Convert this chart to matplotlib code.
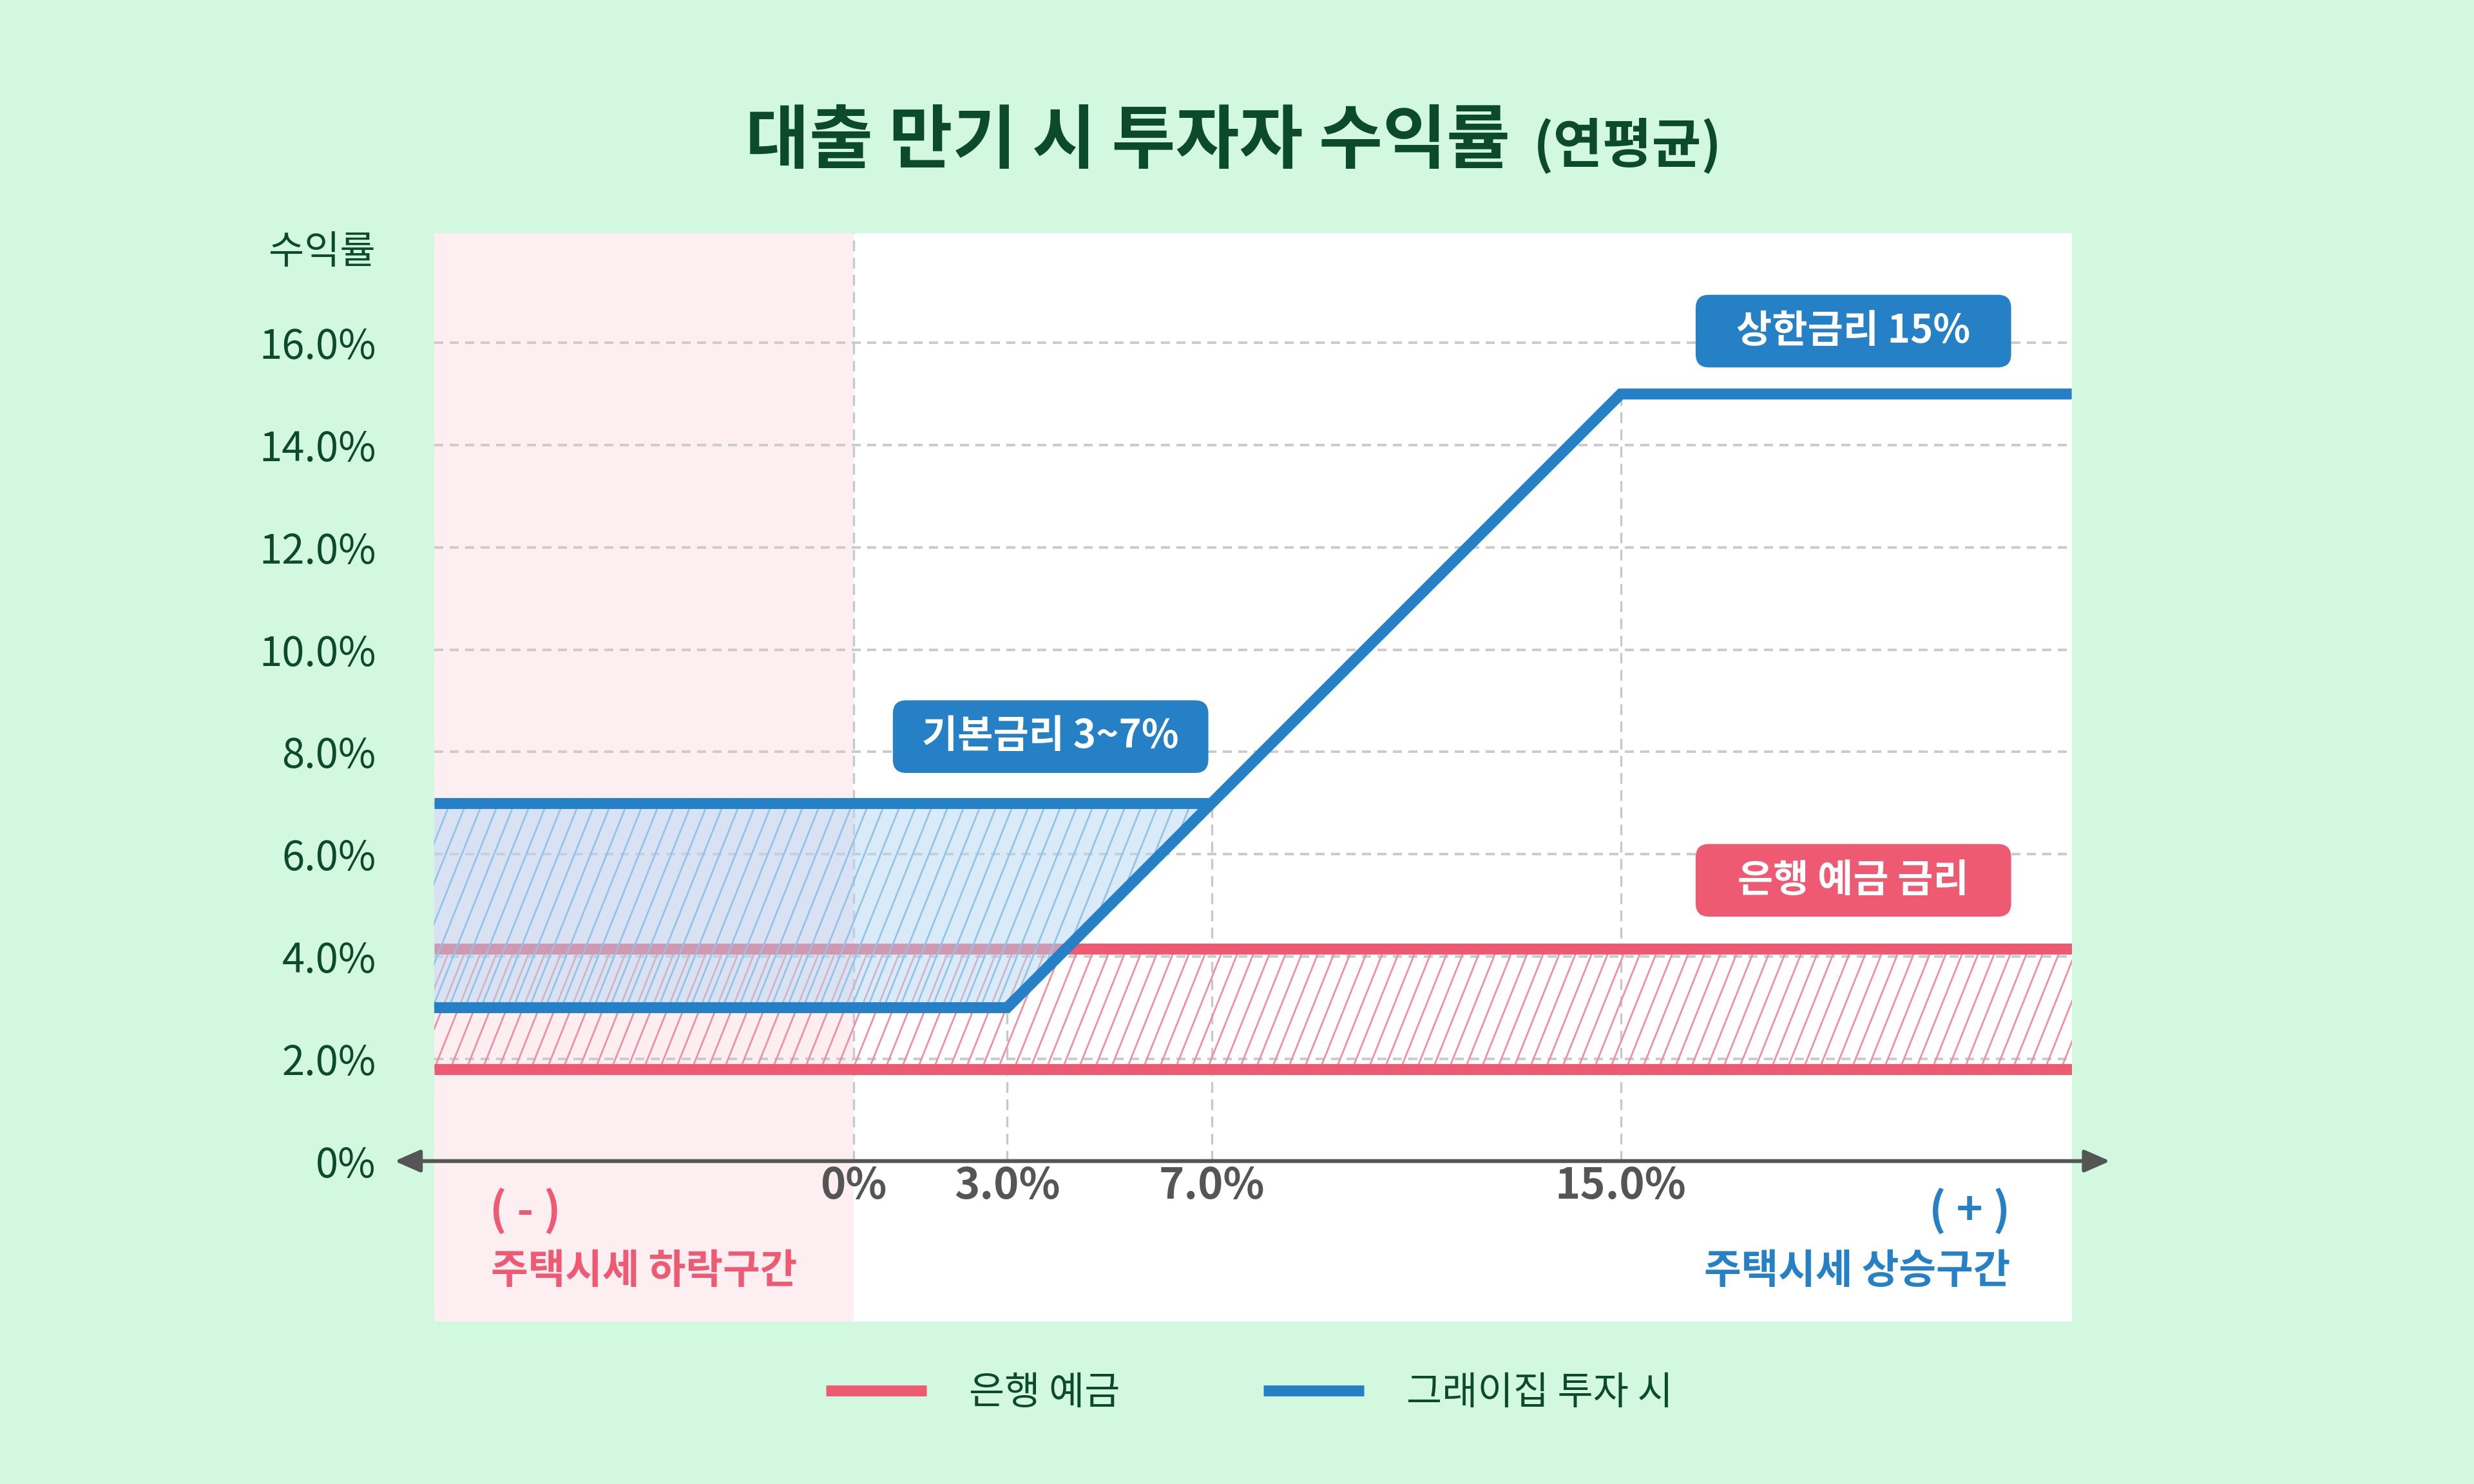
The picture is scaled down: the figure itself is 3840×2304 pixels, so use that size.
import numpy as np
import matplotlib.pyplot as plt
from matplotlib.patches import FancyBboxPatch
from matplotlib.collections import LineCollection

plt.rcParams['font.family'] = ['Noto Sans CJK KR', 'DejaVu Sans']

BG = '#d3f8e0'
GREEN = '#0b4a2b'
PINK = '#ee5a72'
BLUE = '#2580c6'
GREY = '#555555'

# axis range (house price change %, return %)
X_MIN, X_MAX = -8.21, 23.82
Y_MIN, Y_MAX = -3.14, 18.14

y_ticks = [0, 2, 4, 6, 8, 10, 12, 14, 16]
y_tick_labels = ['0%', '2.0%', '4.0%', '6.0%', '8.0%', '10.0%', '12.0%', '14.0%', '16.0%']

x_marks = [0, 3, 7, 15]
x_mark_labels = ['0%', '3.0%', '7.0%', '15.0%']
x_mark_tops = [Y_MAX, 3, 7, 15]

# bank deposit rate band
bank_low = 1.8
bank_high = 4.15

# greyzip investment return
grey_x = [X_MIN, 3, 15, X_MAX]
grey_y = [3, 3, 15, 15]
grey_top_x = [X_MIN, 7]
grey_top_y = [7, 7]
band_x = [X_MIN, 3, 7]
band_low = [3, 3, 7]
band_high = [7, 7, 7]

box_labels = ['상한금리 15%', '기본금리 3~7%', '은행 예금 금리']
box_x = [19.55, 3.85, 19.55]
box_y = [16.23, 8.30, 5.49]
box_colors = [BLUE, BLUE, PINK]


def add_hatch(ax, coll, color, y0, y1, z):
    # steep diagonal hatch clipped to a filled area
    slant = 0.4
    step = 0.315
    segs = []
    for x0 in np.arange(X_MIN - (y1 - y0) * slant, X_MAX, step):
        segs.append([(x0, y0), (x0 + (y1 - y0) * slant, y1)])
    lc = LineCollection(segs, colors=color, linewidths=0.8, zorder=z)
    lc.set_clip_path(coll.get_paths()[0], ax.transData)
    ax.add_collection(lc)


fig = plt.figure(figsize=(16, 9.6), dpi=240, facecolor=BG)
ax = fig.add_axes([0.1754, 0.1094, 0.6620, 0.7333])
ax.set_facecolor('white')
ax.set_xlim(X_MIN, X_MAX)
ax.set_ylim(Y_MIN, Y_MAX)
for s in ax.spines.values():
    s.set_visible(False)

# falling price zone
ax.axvspan(X_MIN, 0, color='#fdeef2', lw=0, zorder=0)

# grid
ax.hlines(y_ticks[1:], X_MIN, X_MAX, colors='#cccccc', lw=1.2,
          linestyles=(0, (3.5, 2.5)), zorder=1)
ax.vlines(x_marks, 0, x_mark_tops, colors='#c8c8c8', lw=1.0,
          linestyles=(0, (5, 3)), zorder=1)

# bank band
pink_fill = ax.fill_between([X_MIN, X_MAX], bank_low, bank_high, facecolor='none', lw=0)
add_hatch(ax, pink_fill, '#f08da1', bank_low, bank_high, 2)
pink_line, = ax.plot([X_MIN, X_MAX], [bank_high, bank_high], color=PINK, lw=5.1,
                     solid_capstyle='butt', zorder=3, label='은행 예금')
ax.plot([X_MIN, X_MAX], [bank_low, bank_low], color=PINK, lw=5.1,
        solid_capstyle='butt', zorder=3)

# greyzip band
blue_fill = ax.fill_between(band_x, band_low, band_high, facecolor='#b4d8f2',
                            alpha=0.5, lw=0, zorder=4)
add_hatch(ax, blue_fill, '#93c2e7', 3, 7, 4.5)
blue_line, = ax.plot(grey_x, grey_y, color=BLUE, lw=5.1, solid_capstyle='butt',
                     solid_joinstyle='miter', zorder=6, label='그래이집 투자 시')
ax.plot(grey_top_x, grey_top_y, color=BLUE, lw=5.1, solid_capstyle='butt', zorder=6)

# horizontal axis arrow
ax.annotate('', xy=(24.57, 0), xytext=(-8.98, 0), annotation_clip=False,
            arrowprops=dict(arrowstyle='<|-|>,head_length=0.5,head_width=0.22',
                            mutation_scale=20, color=GREY, lw=1.8,
                            shrinkA=0, shrinkB=0), zorder=5)

# y ticks
ax.set_xticks([])
ax.set_yticks(y_ticks)
ax.set_yticklabels(y_tick_labels)
ax.tick_params(axis='y', length=0, pad=27, labelsize=19, labelcolor=GREEN)
ax.text(-9.35, 17.77, '수익률', ha='right', va='center', fontsize=18, color=GREEN)

# x marks
for xv, lab in zip(x_marks, x_mark_labels):
    ax.text(xv, -0.49, lab, ha='center', va='center', fontsize=20,
            fontweight='bold', color=GREY)

ax.text(-7.12, -0.98, '( - )', ha='left', va='center', fontsize=21,
        fontweight='bold', color=PINK)
ax.text(-7.1, -2.15, '주택시세 하락구간', ha='left', va='center', fontsize=18.8,
        fontweight='bold', color=PINK)
ax.text(22.62, -0.98, '( + )', ha='right', va='center', fontsize=21,
        fontweight='bold', color=BLUE)
ax.text(22.62, -2.15, '주택시세 상승구간', ha='right', va='center', fontsize=18.8,
        fontweight='bold', color=BLUE)

# label boxes
bw, bh = 6.17, 1.42
for lab, cx, cy, c in zip(box_labels, box_x, box_y, box_colors):
    ax.add_patch(FancyBboxPatch((cx - bw / 2, cy - bh / 2), bw, bh,
                                boxstyle='round,pad=0,rounding_size=0.26',
                                fc=c, ec='none', zorder=7))
    ax.text(cx, cy, lab, ha='center', va='center', fontsize=18,
            fontweight='bold', color='white', zorder=8)

# title
fig.text(0.6104, 0.8906, '대출 만기 시 투자자 수익률', ha='right', va='baseline',
         fontsize=32.3, fontweight='bold', color=GREEN)
fig.text(0.6198, 0.8906, '(연평균)', ha='left', va='baseline',
         fontsize=25, fontweight='bold', color=GREEN)

fig.legend(handles=[pink_line, blue_line], loc='center', bbox_to_anchor=(0.505, 0.0612),
           ncol=2, frameon=False, fontsize=18, handlelength=2.6, handletextpad=1.1,
           columnspacing=3.7, labelcolor=GREEN)

fig.savefig('out.png', dpi=240, facecolor=BG)
